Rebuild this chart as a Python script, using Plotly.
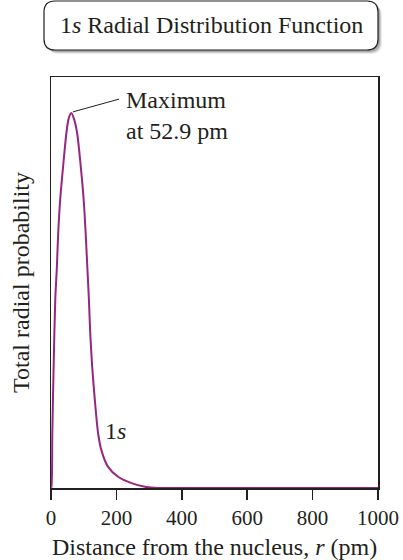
import plotly.graph_objects as go

# ---- data ----
r_pm = [0, 1, 4, 8, 13, 18, 22, 28, 37, 47, 54, 62, 70, 80, 91, 100, 106, 111, 116,
        120, 126, 134, 144, 154, 174, 205, 246, 287, 327, 400, 600, 800, 1000]
prob = [0, 0.0, 0.146, 0.323, 0.501, 0.590, 0.679, 0.768, 0.857, 0.946, 0.985, 1.0,
        0.985, 0.946, 0.857, 0.768, 0.679, 0.590, 0.501, 0.413, 0.323, 0.235, 0.146,
        0.101, 0.057, 0.030, 0.013, 0.0035, 0.0, 0.0, 0.0, 0.0, 0.0]
x_ticks = [0, 200, 400, 600, 800, 1000]
peak_label = "Maximum<br>at 52.9 pm"
curve_label = "1<i>s</i>"
title_text = "1<i>s</i> Radial Distribution Function"

W, H = 403, 560
L, R, T, B = 51, 25, 77, 72
PW, PH = W - L - R, H - T - B
FONT = "Liberation Serif"
CURVE = "#96267f"
INK = "#231f20"


def px(x):
    return (x - L) / PW


def py(y):
    return (H - B - y) / PH


def rounded_rect(x0, y0, x1, y1, rad):
    # pixel coords -> paper path
    rx, ry = rad / PW, rad / PH
    a0, a1 = px(x0), px(x1)
    b0, b1 = py(y1), py(y0)  # bottom, top in paper
    return (f"M {a0+rx},{b1} L {a1-rx},{b1} Q {a1},{b1} {a1},{b1-ry} "
            f"L {a1},{b0+ry} Q {a1},{b0} {a1-rx},{b0} L {a0+rx},{b0} "
            f"Q {a0},{b0} {a0},{b0+ry} L {a0},{b1-ry} Q {a0},{b1} {a0+rx},{b1} Z")


fig = go.Figure()
fig.add_trace(go.Scatter(
    x=r_pm, y=prob, mode="lines",
    line=dict(color=CURVE, width=2, shape="spline", smoothing=0.8),
    hoverinfo="skip", showlegend=False,
))

shapes = []
# soft shadow of title box
for off, op in [(4, 0.08), (3, 0.12), (2, 0.18)]:
    shapes.append(dict(type="path", xref="paper", yref="paper",
                       path=rounded_rect(44 + off, 1 + off, 378 + off, 50 + off, 11),
                       fillcolor=f"rgba(0,0,0,{op})", line=dict(width=0), layer="above"))
shapes.append(dict(type="path", xref="paper", yref="paper",
                   path=rounded_rect(44, 1, 378, 50, 11),
                   fillcolor="white", line=dict(color=INK, width=1.2), layer="above"))
# leader line to the maximum
shapes.append(dict(type="line", xref="x", yref="y",
                   x0=67, y0=1.003, x1=208, y1=1.037,
                   line=dict(color=INK, width=1)))

annotations = [
    dict(text=title_text, xref="paper", yref="paper", x=px(211), y=py(25),
         xanchor="center", yanchor="middle", showarrow=False,
         font=dict(family=FONT, size=24, color=INK)),
    dict(text=peak_label, xref="x", yref="y", x=224, y=0.994,
         xanchor="left", yanchor="middle", showarrow=False, align="left",
         font=dict(family=FONT, size=24, color=INK)),
    dict(text=curve_label, xref="x", yref="y", x=197, y=0.151,
         xanchor="center", yanchor="middle", showarrow=False,
         font=dict(family=FONT, size=24, color=INK)),
]

fig.update_layout(
    width=W, height=H,
    margin=dict(l=L, r=R, t=T, b=B, pad=0),
    paper_bgcolor="white", plot_bgcolor="white",
    shapes=shapes, annotations=annotations,
    font=dict(family=FONT, color=INK),
    xaxis=dict(
        range=[0, 1000], tickvals=x_ticks, ticktext=[str(v) for v in x_ticks],
        ticks="outside", ticklen=10, tickwidth=1.5, tickcolor=INK,
        showline=True, linecolor=INK, linewidth=1.5, mirror=True,
        showgrid=False, zeroline=False, automargin=False,
        tickfont=dict(family=FONT, size=21, color=INK),
        title=dict(text="Distance from the nucleus, <i>r</i> (pm)",
                   font=dict(family=FONT, size=24, color=INK), standoff=10),
    ),
    yaxis=dict(
        range=[0, PH / 375], showticklabels=False, ticks="",
        showline=True, linecolor=INK, linewidth=1.5, mirror=True,
        showgrid=False, zeroline=False, automargin=False,
        title=dict(text="Total radial probability",
                   font=dict(family=FONT, size=24, color=INK), standoff=13),
    ),
)

fig.write_html("out.html",
               config={"displayModeBar": False, "staticPlot": True},
               post_script="document.body.style.margin='0';document.body.style.overflow='hidden';")
